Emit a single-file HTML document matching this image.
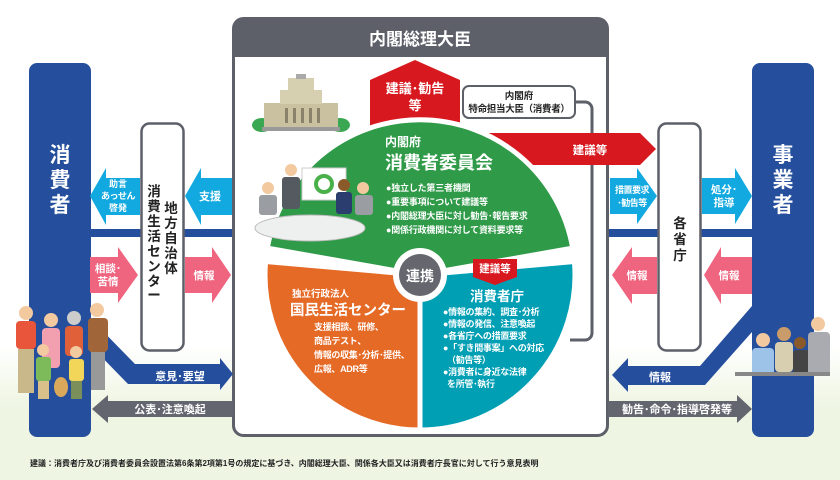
<!DOCTYPE html>
<html><head><meta charset="utf-8"><style>
html,body{margin:0;padding:0;}
body{width:840px;height:480px;overflow:hidden;background:#fff;}
svg{display:block;font-family:"Liberation Sans","Noto Sans CJK JP",sans-serif;}
</style></head><body>
<svg width="840" height="480" viewBox="0 0 840 480" xmlns="http://www.w3.org/2000/svg">
<defs>
<linearGradient id="bg" x1="0" y1="0" x2="0" y2="1">
<stop offset="0" stop-color="#fff"/><stop offset="0.72" stop-color="#fff"/><stop offset="0.85" stop-color="#eef5e2"/><stop offset="1" stop-color="#eef5e2"/>
</linearGradient>
</defs>
<rect width="840" height="480" fill="url(#bg)"/>

<rect x="88" y="229" width="146" height="8" fill="#254f9c"/>
<rect x="607" y="229" width="147" height="8" fill="#254f9c"/>

<rect x="29" y="63" width="62" height="374" rx="8" fill="#254f9c"/>
<rect x="752" y="63" width="62" height="374" rx="8" fill="#254f9c"/>
<g fill="#fff" font-size="21" font-weight="bold" text-anchor="middle">
<text x="60" y="162">消</text><text x="60" y="187">費</text><text x="60" y="212">者</text>
<text x="783" y="162">事</text><text x="783" y="187">業</text><text x="783" y="212">者</text>
</g>

<rect x="233.5" y="18.5" width="374" height="417" rx="10" fill="#fff" stroke="#5d5f69" stroke-width="3"/>
<path d="M233 28 a10 10 0 0 1 10 -10 h355 a10 10 0 0 1 10 10 v29 h-375z" fill="#5d5f69"/>
<text x="420" y="45" fill="#fff" font-size="17" font-weight="bold" text-anchor="middle">内閣総理大臣</text>

<rect x="141.5" y="123.5" width="42" height="227" rx="8" fill="#fff" stroke="#5d5f69" stroke-width="2.5"/>
<rect x="658.5" y="123.5" width="42" height="227" rx="8" fill="#fff" stroke="#5d5f69" stroke-width="2.5"/>
<g font-size="13.5" font-weight="bold" fill="#222" text-anchor="middle">
<text x="154" y="196">消</text><text x="154" y="211">費</text><text x="154" y="226">生</text><text x="154" y="241">活</text><text x="154" y="256">セ</text><text x="154" y="271">ン</text><text x="154" y="286">タ</text><text x="154" y="300">ー</text>
<text x="171" y="213">地</text><text x="171" y="228">方</text><text x="171" y="243">自</text><text x="171" y="258">治</text><text x="171" y="273">体</text>
<text x="680" y="228">各</text><text x="680" y="244">省</text><text x="680" y="260">庁</text>
</g>

<g fill="#12a9e0">
<path d="M90 196 l16 -28 v10 h34 v37 h-34 v10z"/>
<path d="M185 196 l16 -28 v10 h31 v37 h-31 v10z"/>
<path d="M610 178 h27 v-10 l20 28 l-20 28 v-10 h-27z"/>
<path d="M702 178 h33 v-10 l17 28 l-17 28 v-10 h-33z"/>
</g>
<g fill="#fff" font-size="9" text-anchor="middle" font-weight="bold">
<text x="118" y="187">助言</text><text x="118" y="199" letter-spacing="-0.5">あっせん</text><text x="118" y="211">啓発</text>
<text x="210" y="200" font-size="11">支援</text>
<text x="632" y="193" letter-spacing="-0.5">措置要求</text><text x="632" y="206" letter-spacing="-0.5">･勧告等</text>
<text x="724" y="193" font-size="10.5">処分･</text><text x="724" y="206" font-size="10.5">指導</text>
</g>

<g fill="#ef6580">
<path d="M90 257 h28 v-10 l20 28 l-20 28 v-10 h-28z"/>
<path d="M185 257 h27 v-10 l19 28 l-19 28 v-10 h-27z"/>
<path d="M612 275 l20 -28 v10 h25 v37 h-25 v10z"/>
<path d="M704 275 l17 -28 v10 h31 v37 h-31 v10z"/>
</g>
<g fill="#fff" font-size="10.5" font-weight="bold" text-anchor="middle">
<text x="108" y="272">相談･</text><text x="108" y="285">苦情</text>
<text x="204" y="279">情報</text>
<text x="637" y="279">情報</text>
<text x="729" y="279">情報</text>
</g>

<path d="M90 318 L135 364 H220 V358 L233 374 L220 390 V384 H128 L90 345z" fill="#254f9c"/>
<text x="180" y="380" fill="#fff" font-size="11" font-weight="bold" text-anchor="middle">意見･要望</text>
<path d="M752 306 L700 366 H628 V358 L612 375 L628 392 V385 H705 L752 332z" fill="#254f9c"/>
<text x="660" y="381" fill="#fff" font-size="11" font-weight="bold" text-anchor="middle">情報</text>
<path d="M92 409 L108 395 V401 H233 V417 H108 V423z" fill="#63656f"/>
<text x="170" y="413" fill="#fff" font-size="11" font-weight="bold" text-anchor="middle">公表･注意喚起</text>
<path d="M608 401 H737 V395 L752 409 L737 423 V417 H608z" fill="#63656f"/>
<text x="677" y="413" fill="#fff" font-size="11" font-weight="bold" text-anchor="middle">勧告･命令･指導啓発等</text>

<path d="M574 102 H585 a7 7 0 0 1 7 7 V333 a7 7 0 0 1 -7 7 H570" fill="none" stroke="#5d5f69" stroke-width="3"/>

<path d="M370 80 L415 60 L460 80 V140 H370z" fill="#d7191f"/>
<text x="415" y="93" fill="#fff" font-size="13" font-weight="bold" text-anchor="middle">建議･勧告</text>
<text x="415" y="110" fill="#fff" font-size="13" font-weight="bold" text-anchor="middle">等</text>
<path d="M480 133 H640 L656 149 L640 165 H480z" fill="#d7191f"/>
<text x="590" y="154" fill="#fff" font-size="11.5" font-weight="bold" text-anchor="middle">建議等</text>

<rect x="463" y="86" width="112" height="32" rx="6" fill="#fff" stroke="#5d5f69" stroke-width="2"/>
<text x="519" y="99" font-size="9.5" font-weight="bold" text-anchor="middle" fill="#222">内閣府</text>
<text x="519" y="112" font-size="9.5" font-weight="bold" text-anchor="middle" fill="#222" letter-spacing="-0.3">特命担当大臣（消費者）</text>

<g stroke="#fff" stroke-width="5" stroke-linejoin="round">
<path d="M420 275 L267.3 248.1 A155 155 0 0 1 572.7 248.1 Z" fill="#2f9a48"/>
<path d="M420 275 L265.6 261.5 A155 155 0 0 0 420 430 Z" fill="#e56a26"/>
<path d="M420 275 L420 430 A155 155 0 0 0 574.4 261.5 Z" fill="#009fb4"/>
</g>
<circle cx="420" cy="275" r="27" fill="#fff"/>
<circle cx="420" cy="275" r="21" fill="#66676e"/>
<text x="420" y="281" fill="#fff" font-size="14" font-weight="bold" text-anchor="middle">連携</text>

<g>
<ellipse cx="262" cy="125" rx="10" ry="7" fill="#3aa853"/>
<ellipse cx="340" cy="125" rx="10" ry="7" fill="#3aa853"/>
<rect x="264" y="103" width="74" height="26" fill="#c9c1a0"/>
<rect x="280" y="90" width="42" height="14" fill="#d6cfb0"/>
<rect x="288" y="78" width="26" height="13" fill="#d6cfb0"/>
<rect x="296" y="74" width="10" height="5" fill="#aaa"/>
<rect x="262" y="127" width="78" height="4" fill="#999"/>
<g fill="#8a826a"><rect x="285" y="108" width="3" height="15"/><rect x="293" y="108" width="3" height="15"/><rect x="301" y="108" width="3" height="15"/><rect x="309" y="108" width="3" height="15"/><rect x="317" y="108" width="3" height="15"/></g>
</g>

<rect x="302" y="168" width="44" height="32" fill="#fff" stroke="#ccc"/>
<circle cx="324" cy="184" r="8" fill="none" stroke="#4ab04a" stroke-width="4"/>
<ellipse cx="310" cy="228" rx="55" ry="13" fill="#eef0f0" stroke="#bbb"/>
<circle cx="291" cy="170" r="6" fill="#f3c9a0"/><rect x="282" y="177" width="18" height="32" rx="3" fill="#555a60"/>
<circle cx="268" cy="188" r="6" fill="#f3c9a0"/><rect x="259" y="195" width="18" height="20" rx="3" fill="#9a9ea2"/>
<circle cx="344" cy="185" r="6" fill="#8b5a2b"/><rect x="336" y="192" width="16" height="22" rx="3" fill="#2b3d6e"/>
<circle cx="363" cy="188" r="6" fill="#f3c9a0"/><rect x="355" y="195" width="18" height="20" rx="3" fill="#9a9ea2"/>

<text x="385" y="146" fill="#fff" font-size="12" font-weight="bold">内閣府</text>
<text x="385" y="169" fill="#fff" font-size="18" font-weight="bold">消費者委員会</text>
<g fill="#fff" font-size="9" font-weight="bold" letter-spacing="-0.2">
<text x="386" y="191">●独立した第三者機関</text>
<text x="386" y="205">●重要事項について建議等</text>
<text x="386" y="219">●内閣総理大臣に対し勧告･報告要求</text>
<text x="386" y="233">●関係行政機関に対して資料要求等</text>
</g>

<text x="292" y="297" fill="#fff" font-size="9.5" font-weight="bold">独立行政法人</text>
<text x="290" y="315" fill="#fff" font-size="14.5" font-weight="bold">国民生活センター</text>
<g fill="#fff" font-size="9" font-weight="bold" letter-spacing="-0.3">
<text x="314" y="330">支援相談、研修、</text>
<text x="314" y="344">商品テスト、</text>
<text x="314" y="358">情報の収集･分析･提供、</text>
<text x="314" y="372">広報、ADR等</text>
</g>

<path d="M473 259 H517 V277 L495 285 L473 277z" fill="#d7191f"/>
<text x="495" y="272" fill="#fff" font-size="10.5" font-weight="bold" text-anchor="middle">建議等</text>
<text x="497" y="301" fill="#fff" font-size="13.5" font-weight="bold" text-anchor="middle">消費者庁</text>
<g fill="#fff" font-size="9" font-weight="bold" letter-spacing="-0.3">
<text x="443" y="315">●情報の集約、調査･分析</text>
<text x="443" y="327">●情報の発信、注意喚起</text>
<text x="443" y="339">●各省庁への措置要求</text>
<text x="443" y="351">●「すき間事案」への対応</text>
<text x="447" y="363">（勧告等）</text>
<text x="443" y="375">●消費者に身近な法律</text>
<text x="447" y="387">を所管･執行</text>
</g>

<g>
<circle cx="26" cy="313" r="7" fill="#f3c9a0"/><rect x="16" y="321" width="20" height="28" rx="4" fill="#e8553a"/><rect x="18" y="349" width="16" height="44" fill="#c9b98a"/>
<circle cx="51" cy="320" r="7" fill="#f3c9a0"/><rect x="42" y="328" width="18" height="40" rx="4" fill="#f2a0b0"/>
<circle cx="74" cy="318" r="7" fill="#ccc"/><rect x="65" y="326" width="18" height="30" rx="4" fill="#e0603a"/>
<circle cx="97" cy="310" r="7" fill="#f3c9a0"/><rect x="88" y="318" width="20" height="34" rx="4" fill="#a0663a"/><rect x="91" y="352" width="14" height="38" fill="#999"/>
<circle cx="43" cy="350" r="6" fill="#f3c9a0"/><rect x="36" y="357" width="15" height="24" rx="3" fill="#7dbb5a"/><rect x="38" y="381" width="11" height="18" fill="#d9c08a"/>
<circle cx="76" cy="352" r="6" fill="#f3c9a0"/><rect x="69" y="359" width="15" height="22" rx="3" fill="#f1d65a"/><rect x="71" y="381" width="11" height="18" fill="#7a8f5a"/>
<ellipse cx="61" cy="387" rx="7" ry="10" fill="#d9a85a"/>
</g>
<g>
<circle cx="763" cy="340" r="7" fill="#f3c9a0"/><rect x="752" y="348" width="22" height="28" rx="4" fill="#9ec3e8"/>
<circle cx="784" cy="334" r="7" fill="#c99a6a"/><rect x="775" y="342" width="18" height="30" rx="4" fill="#d7cfb0"/>
<circle cx="800" cy="343" r="6" fill="#8b5a2b"/><rect x="793" y="350" width="17" height="26" rx="4" fill="#444"/>
<circle cx="818" cy="324" r="7" fill="#f3c9a0"/><rect x="808" y="332" width="22" height="44" rx="4" fill="#a9abb0"/>
<rect x="735" y="372" width="95" height="4" fill="#888"/>
</g>

<text x="30" y="466" font-size="8" font-weight="bold" fill="#222">建議：消費者庁及び消費者委員会設置法第6条第2項第1号の規定に基づき、内閣総理大臣、関係各大臣又は消費者庁長官に対して行う意見表明</text>
</svg>
</body></html>
